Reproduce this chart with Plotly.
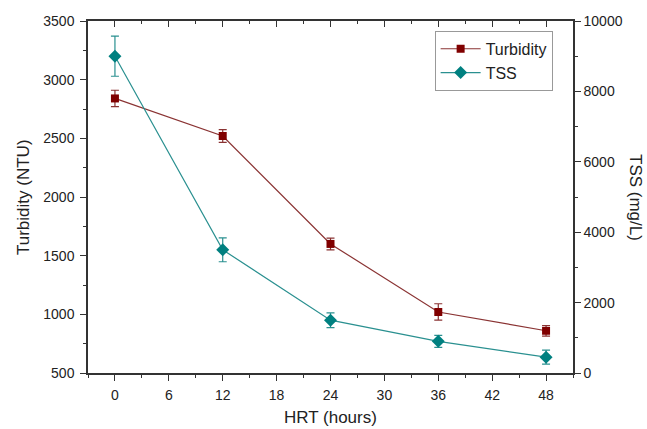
import plotly.graph_objects as go

# HRT sampling points (hours)
hrt = [0, 12, 24, 36, 48]

# Turbidity (NTU) with standard deviation
turbidity = [2840, 2520, 1600, 1020, 860]
turbidity_err = [70, 55, 50, 70, 45]

# Total suspended solids (mg/L) with standard deviation
tss = [9000, 3500, 1500, 900, 450]
tss_err = [570, 340, 210, 170, 200]

FONT = "Liberation Sans, Arial, sans-serif"
AXIS_COLOR = "#333333"
TEXT_COLOR = "#222222"
TITLE_SIZE = 17

fig = go.Figure()

fig.add_trace(go.Scatter(
    x=hrt, y=turbidity, name="Turbidity", mode="lines+markers",
    line=dict(color="#8a3333", width=1.2),
    marker=dict(symbol="square", size=8, color="#800000"),
    error_y=dict(type="data", array=turbidity_err, color="#8a3333",
                 thickness=1.2, width=4),
    yaxis="y", xaxis="x",
))

fig.add_trace(go.Scatter(
    x=hrt, y=tss, name="TSS", mode="lines+markers",
    line=dict(color="#2a9090", width=1.2),
    marker=dict(symbol="diamond", size=10, color="#008080"),
    error_y=dict(type="data", array=tss_err, color="#2a9090",
                 thickness=1.2, width=4),
    yaxis="y2", xaxis="x",
))

# invisible helper trace so the top frame axis is rendered
fig.add_trace(go.Scatter(
    x=[hrt[0]], y=[turbidity[0]], xaxis="x2", yaxis="y",
    mode="markers", marker=dict(opacity=0), showlegend=False,
    hoverinfo="skip",
))

xrange = [-3, 51]
xticks = [0, 6, 12, 18, 24, 30, 36, 42, 48]

fig.update_layout(
    width=647, height=429,
    margin=dict(l=88, r=74, t=21, b=56),
    paper_bgcolor="white", plot_bgcolor="white",
    font=dict(family=FONT, size=14, color=TEXT_COLOR),
    showlegend=True,
    legend=dict(
        x=0.958, y=0.972, xanchor="right", yanchor="top",
        bgcolor="white", bordercolor="#999999", borderwidth=1,
        font=dict(family=FONT, size=16, color=TEXT_COLOR),
        tracegroupgap=0, itemwidth=40,
    ),
    xaxis=dict(
        range=xrange, tickmode="array", tickvals=xticks, automargin=False,
        ticks="outside", ticklen=6, tickwidth=1.2, tickcolor=AXIS_COLOR,
        minor=dict(tickmode="array", tickvals=[-3, 3, 9, 15, 21, 27, 33, 39, 45, 51],
                   ticks="outside", ticklen=3, tickcolor=AXIS_COLOR, tickwidth=1.2),
        showline=True, linecolor=AXIS_COLOR, linewidth=1.5,
        showgrid=False, zeroline=False, ticklabelstandoff=2,
        tickfont=dict(size=14),
    ),
    xaxis2=dict(
        range=xrange, overlaying="x", side="top", anchor="y", automargin=False,
        tickmode="array", tickvals=xticks,
        ticks="inside", ticklen=6, tickwidth=1.2, tickcolor=AXIS_COLOR,
        minor=dict(tickmode="array", tickvals=[3, 9, 15, 21, 27, 33, 39, 45],
                   ticks="inside", ticklen=3, tickcolor=AXIS_COLOR, tickwidth=1.2),
        showticklabels=False,
        showline=True, linecolor=AXIS_COLOR, linewidth=1.5,
        showgrid=False, zeroline=False,
    ),
    yaxis=dict(
        range=[500, 3500], tickmode="linear", tick0=500, dtick=500, automargin=False,
        ticks="outside", ticklen=6, tickwidth=1.2, tickcolor=AXIS_COLOR,
        minor=dict(dtick=250, tick0=500, ticks="outside", ticklen=3,
                   tickcolor=AXIS_COLOR, tickwidth=1.2),
        showline=True, linecolor=AXIS_COLOR, linewidth=1.5,
        showgrid=False, zeroline=False, ticklabelstandoff=3,
        tickfont=dict(size=14), tickformat="d",
    ),
    yaxis2=dict(
        range=[0, 10000], overlaying="y", side="right", anchor="x", automargin=False,
        tickmode="linear", tick0=0, dtick=2000,
        ticks="outside", ticklen=6, tickwidth=1.2, tickcolor=AXIS_COLOR,
        minor=dict(dtick=1000, tick0=0, ticks="outside", ticklen=3,
                   tickcolor=AXIS_COLOR, tickwidth=1.2),
        showline=True, linecolor=AXIS_COLOR, linewidth=1.5,
        showgrid=False, zeroline=False,
        tickfont=dict(size=14), tickformat="d",
    ),
    annotations=[
        dict(text="HRT (hours)", xref="paper", yref="paper", x=0.5, y=0,
             xanchor="center", yanchor="middle", yshift=-44, showarrow=False,
             font=dict(family=FONT, size=TITLE_SIZE, color=TEXT_COLOR)),
        dict(text="Turbidity (NTU)", textangle=-90, xref="paper", yref="paper",
             x=0, y=0.5, xanchor="center", yanchor="middle", xshift=-65,
             showarrow=False, font=dict(family=FONT, size=TITLE_SIZE, color=TEXT_COLOR)),
        dict(text="TSS (mg/L)", textangle=90, xref="paper", yref="paper",
             x=1, y=0.5, xanchor="center", yanchor="middle", xshift=63,
             showarrow=False, font=dict(family=FONT, size=TITLE_SIZE, color=TEXT_COLOR)),
    ],
)

fig.write_html("out.html")
